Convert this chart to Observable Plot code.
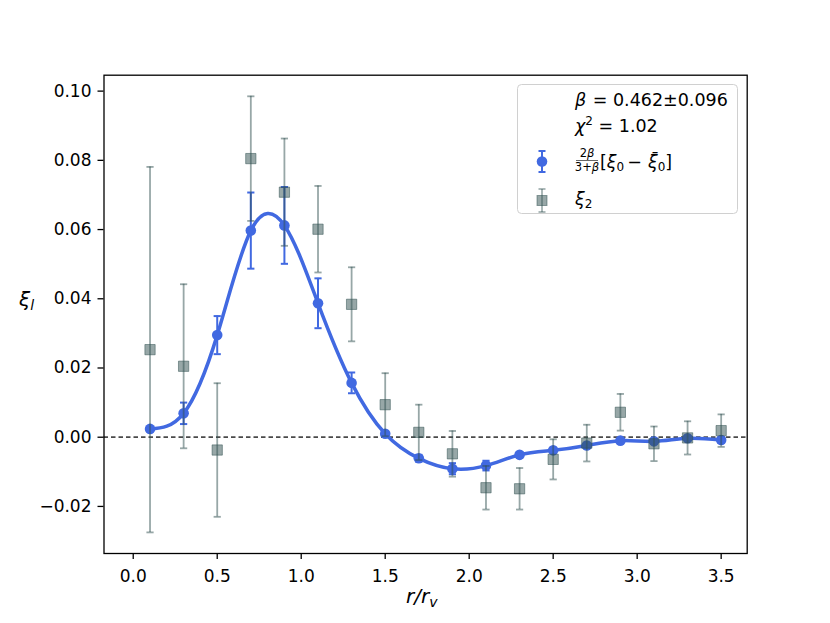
<!DOCTYPE html>
<html>
<head>
<meta charset="utf-8">
<script src="https://cdn.jsdelivr.net/npm/d3@7"></script>
<script src="https://cdn.jsdelivr.net/npm/@observablehq/plot@0.6"></script>
<style>
  html, body { margin: 0; padding: 0; background: #fff; }
  #chart { position: relative; width: 830px; height: 623px; }
</style>
</head>
<body>
<div id="chart"></div>
<script>
// ---- data ----
const rBins = [0.1, 0.3, 0.5, 0.7, 0.9, 1.1, 1.3, 1.5, 1.7, 1.9, 2.1, 2.3, 2.5, 2.7, 2.9, 3.1, 3.3, 3.5];
const xi0Scaled = [0.0024, 0.0069, 0.0295, 0.0597, 0.0612, 0.0387, 0.0157, 0.0010, -0.0061, -0.0091, -0.0082, -0.0051, -0.0038, -0.0024, -0.0010, -0.0012, -0.0003, -0.0008];
const xi0Err = [0.0005, 0.0031, 0.0055, 0.0110, 0.0111, 0.0072, 0.0030, 0.0006, 0.0010, 0.0016, 0.0014, 0.0008, 0.0007, 0.0007, 0.0005, 0.0007, 0.0006, 0.0008];
const xi2 = [0.0253, 0.0205, -0.0037, 0.0805, 0.0708, 0.0601, 0.0384, 0.0094, 0.0014, -0.0048, -0.0146, -0.0149, -0.0064, -0.0017, 0.0072, -0.0019, -0.0002, 0.0019];
const xi2Err = [0.0528, 0.0237, 0.0193, 0.0180, 0.0155, 0.0125, 0.0107, 0.0091, 0.0080, 0.0066, 0.0063, 0.0060, 0.0058, 0.0053, 0.0053, 0.0050, 0.0048, 0.0047];
const xTicks = [0.0, 0.5, 1.0, 1.5, 2.0, 2.5, 3.0, 3.5];
const yTicks = [-0.02, 0.00, 0.02, 0.04, 0.06, 0.08, 0.10];
const betaText = "0.462±0.096";
const chi2Text = "1.02";

const blue = "#4169E1";
const grey = "#2F4F4F";
const font = "DejaVu Sans";

const d0 = rBins.map((r, i) => ({r, y: xi0Scaled[i], e: xi0Err[i]}));
const d2 = rBins.map((r, i) => ({r, y: xi2[i], e: xi2Err[i]}));

// horizontal cap symbol for error bars
const capSym = {draw(ctx, size) { const w = Math.sqrt(size / Math.PI); ctx.moveTo(-w, 0); ctx.lineTo(w, 0); }};
const fmtY = d => (d < 0 ? "\u2212" : "") + Math.abs(d).toFixed(2);

const plot = Plot.plot({
  width: 830,
  height: 623,
  marginLeft: 103.5,
  marginRight: 83.3,
  marginTop: 74.7,
  marginBottom: 70,
  style: {fontFamily: font, fontSize: "17px", color: "black", background: "white"},
  x: {domain: [-0.174, 3.655], label: null},
  y: {domain: [-0.0336, 0.1046], label: null},
  marks: [
    Plot.ruleY([0], {stroke: "#4a4a4a", strokeWidth: 1.8, strokeDasharray: "4.5,3"}),
    // scaled xi0 with error bars
    Plot.ruleX(d0, {x: "r", y1: d => d.y - d.e, y2: d => d.y + d.e, stroke: blue, strokeWidth: 2}),
    Plot.dot(d0, {x: "r", y: d => d.y - d.e, symbol: capSym, r: 3.6, stroke: blue, fill: "none", strokeWidth: 2}),
    Plot.dot(d0, {x: "r", y: d => d.y + d.e, symbol: capSym, r: 3.6, stroke: blue, fill: "none", strokeWidth: 2}),
    Plot.line(d0, {x: "r", y: "y", stroke: blue, strokeWidth: 3.5, curve: "natural"}),
    Plot.dot(d0, {x: "r", y: "y", r: 5.3, fill: blue, stroke: "none"}),
    // xi2 with error bars
    Plot.ruleX(d2, {x: "r", y1: d => d.y - d.e, y2: d => d.y + d.e, stroke: grey, strokeOpacity: 0.5, strokeWidth: 1.8}),
    Plot.dot(d2, {x: "r", y: d => d.y - d.e, symbol: capSym, r: 3.6, stroke: grey, strokeOpacity: 0.5, fill: "none", strokeWidth: 1.8}),
    Plot.dot(d2, {x: "r", y: d => d.y + d.e, symbol: capSym, r: 3.6, stroke: grey, strokeOpacity: 0.5, fill: "none", strokeWidth: 1.8}),
    Plot.dot(d2, {x: "r", y: "y", symbol: "square", r: 5.8, fill: grey, fillOpacity: 0.5, stroke: grey, strokeOpacity: 0.5, strokeWidth: 1}),
    Plot.frame({stroke: "black", strokeWidth: 1.3}),
    Plot.axisX({ticks: xTicks, tickFormat: d => d.toFixed(1), tickSize: 6, tickPadding: 10, fontSize: 17, strokeWidth: 1.3, label: null}),
    Plot.axisY({ticks: yTicks, tickFormat: fmtY, tickSize: 6, tickPadding: 6.5, fontSize: 17, strokeWidth: 1.3, label: null})
  ]
});
document.getElementById("chart").appendChild(plot);

// ---- axis titles and legend ----
const svg = d3.select(plot);
const t = svg.append("g").attr("font-family", font).attr("fill", "black").attr("text-anchor", "start");

// y label: xi_l
const yl = t.append("text").attr("x", 19).attr("y", 306).attr("font-size", 20);
yl.append("tspan").attr("font-style", "italic").text("ξ");
yl.append("tspan").attr("font-style", "italic").attr("font-size", 14).attr("dy", 4).text("l");

// x label: r/r_v
const xl = t.append("text").attr("x", 406).attr("y", 603).attr("font-size", 20);
xl.append("tspan").attr("font-style", "italic").text("r/r");
xl.append("tspan").attr("font-style", "italic").attr("font-size", 14).attr("dy", 4).text("v");

// legend box
const lg = svg.append("g").attr("font-family", font).attr("fill", "black").attr("text-anchor", "start");
lg.append("rect").attr("x", 517.5).attr("y", 84.5).attr("width", 220).attr("height", 129).attr("rx", 4)
  .attr("fill", "white").attr("fill-opacity", 0.8).attr("stroke", "#d0d0d0").attr("stroke-width", 1);

const l1 = lg.append("text").attr("x", 575).attr("y", 106).attr("font-size", 17.5);
l1.append("tspan").attr("font-style", "italic").text("β");
l1.append("tspan").attr("dx", 1).text(" = " + betaText);

const l2 = lg.append("text").attr("x", 575).attr("y", 132).attr("font-size", 17.5);
l2.append("tspan").attr("font-style", "italic").text("χ");
l2.append("tspan").attr("font-size", 12).attr("dy", -7).text("2");
l2.append("tspan").attr("dy", 7).text(" = " + chi2Text);

// item 1 marker
const m1 = lg.append("g").attr("stroke", blue).attr("stroke-width", 2);
m1.append("line").attr("x1", 542).attr("x2", 542).attr("y1", 151).attr("y2", 172);
m1.append("line").attr("x1", 538.5).attr("x2", 545.5).attr("y1", 151).attr("y2", 151);
m1.append("line").attr("x1", 538.5).attr("x2", 545.5).attr("y1", 172).attr("y2", 172);
lg.append("circle").attr("cx", 542).attr("cy", 161.5).attr("r", 5.3).attr("fill", blue);

// item 1 label: 2β/(3+β) [ξ0 − ξ̄0]
const num = lg.append("text").attr("x", 587).attr("y", 157).attr("font-size", 11.5).attr("text-anchor", "middle");
num.append("tspan").text("2");
num.append("tspan").attr("font-style", "italic").text("β");
lg.append("line").attr("x1", 576).attr("x2", 598).attr("y1", 160.5).attr("y2", 160.5).attr("stroke", "black").attr("stroke-width", 0.6);
const den = lg.append("text").attr("x", 587).attr("y", 171).attr("font-size", 11.5).attr("text-anchor", "middle");
den.append("tspan").text("3+");
den.append("tspan").attr("font-style", "italic").text("β");
const lab1 = lg.append("text").attr("x", 600).attr("y", 168).attr("font-size", 17.5);
lab1.append("tspan").text("[");
lab1.append("tspan").attr("font-style", "italic").text("ξ");
lab1.append("tspan").attr("font-size", 12).attr("dy", 3).text("0");
lab1.append("tspan").attr("dy", -3).attr("dx", 3).text("\u2212");
lab1.append("tspan").attr("dx", 6).attr("font-style", "italic").text("ξ\u0304");
lab1.append("tspan").attr("font-size", 12).attr("dy", 3).text("0");
lab1.append("tspan").attr("dy", -3).text("]");

// item 2 marker
const m2 = lg.append("g").attr("stroke", grey).attr("stroke-opacity", 0.5).attr("stroke-width", 1.6);
m2.append("line").attr("x1", 542).attr("x2", 542).attr("y1", 189).attr("y2", 212);
m2.append("line").attr("x1", 538.5).attr("x2", 545.5).attr("y1", 189).attr("y2", 189);
m2.append("line").attr("x1", 538.5).attr("x2", 545.5).attr("y1", 212).attr("y2", 212);
lg.append("rect").attr("x", 537).attr("y", 195.5).attr("width", 10).attr("height", 10)
  .attr("fill", grey).attr("fill-opacity", 0.5).attr("stroke", grey).attr("stroke-opacity", 0.5);

const lab2 = lg.append("text").attr("x", 575).attr("y", 205).attr("font-size", 17.5);
lab2.append("tspan").attr("font-style", "italic").text("ξ");
lab2.append("tspan").attr("font-size", 12).attr("dy", 3).text("2");
</script>
</body>
</html>
